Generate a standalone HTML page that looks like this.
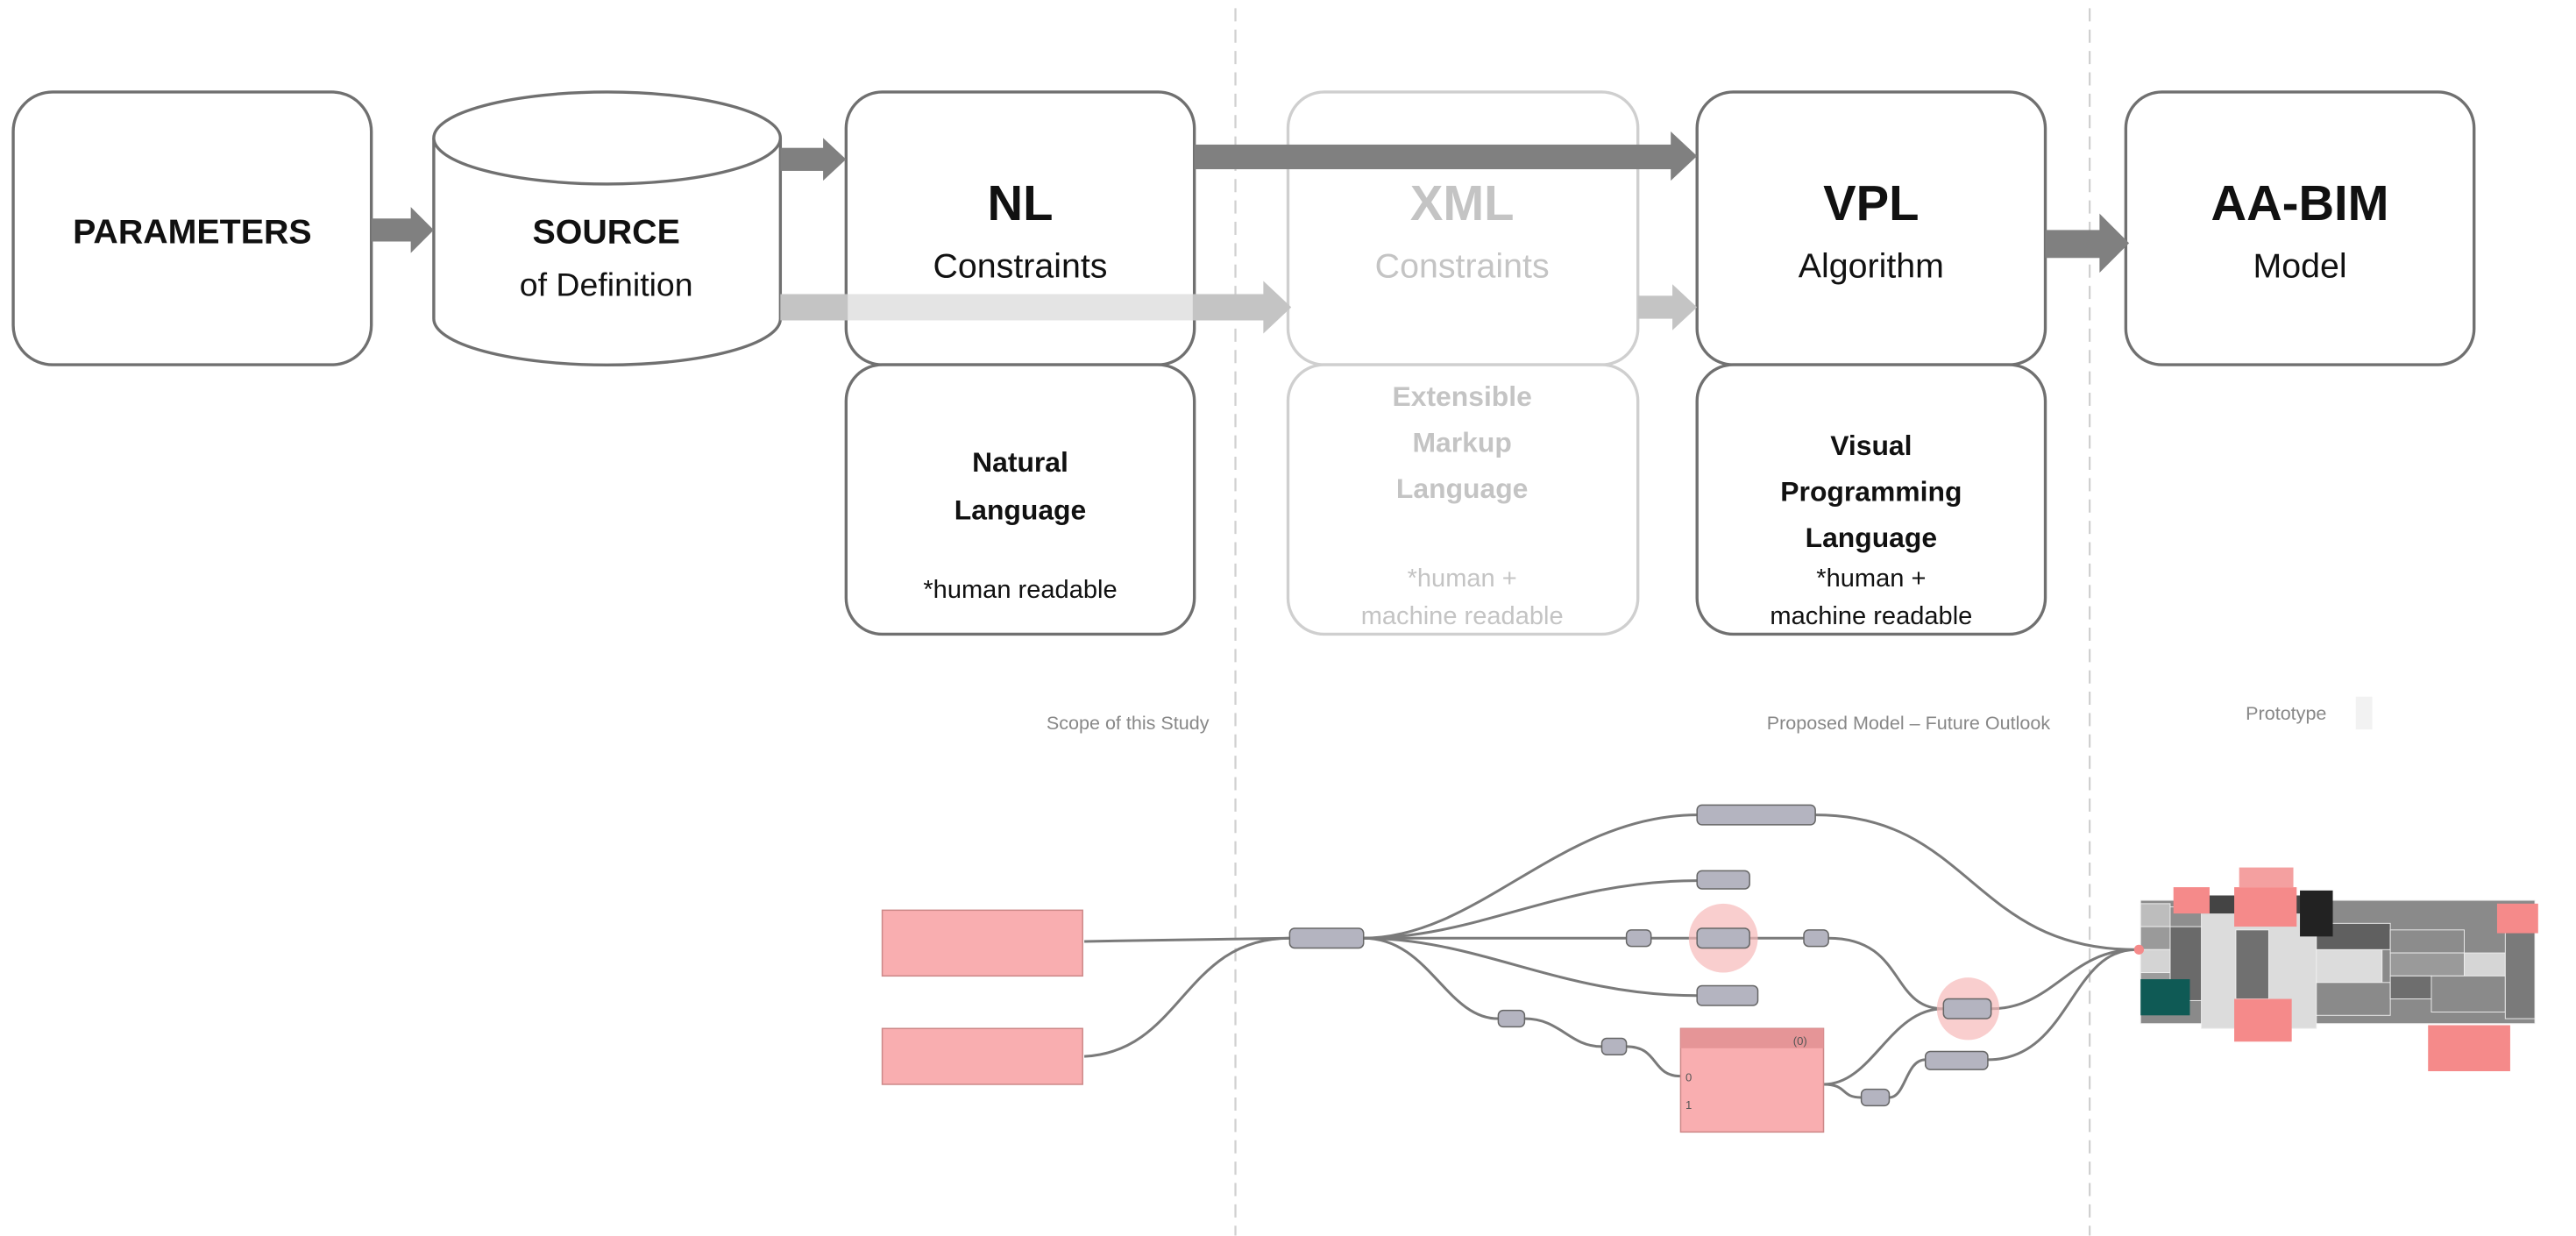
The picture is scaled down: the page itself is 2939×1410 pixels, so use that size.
<!DOCTYPE html>
<html><head><meta charset="utf-8"><style>
html,body{margin:0;padding:0;background:#fff;}
svg{display:block;}
text{font-family:"Liberation Sans",sans-serif;}
</style></head><body>
<svg width="2939" height="1410" viewBox="0 0 1568 752.3" xmlns="http://www.w3.org/2000/svg">
<rect width="1568" height="753" fill="#fff"/>
<!-- dashed dividers -->
<line x1="752" y1="5" x2="752" y2="752" stroke="#d0d0d0" stroke-width="1.2" stroke-dasharray="8,5"/>
<line x1="1272" y1="5" x2="1272" y2="752" stroke="#d0d0d0" stroke-width="1.2" stroke-dasharray="8,5"/>

<g stroke="#707070" stroke-width="1.8" fill="#fff">
<rect x="8" y="56" width="218" height="166" rx="24"/>
<!-- cylinder -->
<path d="M264 84 L264 194 A105 28 0 0 0 475 194 L475 84" />
<ellipse cx="369.5" cy="84" rx="105.5" ry="28"/>
<rect x="515" y="56" width="212" height="166" rx="22"/>
<rect x="515" y="222" width="212" height="164" rx="22"/>
<rect x="1033" y="56" width="212" height="166" rx="22"/>
<rect x="1033" y="222" width="212" height="164" rx="22"/>
<rect x="1294" y="56" width="212" height="166" rx="22"/>
</g>
<g stroke="#cfcfcf" stroke-width="1.8" fill="#fff">
<rect x="784" y="56" width="213" height="166" rx="22"/>
<rect x="784" y="222" width="213" height="164" rx="22"/>
</g>

<!-- arrows -->
<g fill="#808080">
<rect x="226" y="133" width="26" height="14"/><polygon points="250,126 264,140 250,154"/>
<rect x="475" y="90" width="28" height="14"/><polygon points="501,84 515,97 501,110"/>
<rect x="727" y="88" width="292" height="15"/><polygon points="1017,80 1033,95 1017,110"/>
<rect x="1245" y="140" width="35" height="17"/><polygon points="1278,130 1296,148 1278,166"/>
</g>
<g fill="#c4c4c4">
<rect x="475" y="179" width="296" height="16"/><polygon points="769,171 786,187 769,203"/>
<rect x="997" y="180" width="23" height="14"/><polygon points="1018,173 1033,187 1018,201"/>
</g>
<rect x="516" y="179" width="210" height="16" fill="#fff" opacity="0.55"/>

<!-- texts -->
<g font-weight="bold" fill="#111" text-anchor="middle">
<text x="117" y="148" font-size="21">PARAMETERS</text>
<text x="369" y="148" font-size="21">SOURCE</text>
<text x="621" y="134" font-size="30">NL</text>
<text x="1139" y="134" font-size="30">VPL</text>
<text x="1400" y="134" font-size="30">AA-BIM</text>
<text x="621" y="287" font-size="17">Natural</text>
<text x="621" y="316" font-size="17">Language</text>
<text x="1139" y="277" font-size="17">Visual</text>
<text x="1139" y="305" font-size="17">Programming</text>
<text x="1139" y="333" font-size="17">Language</text>
</g>
<g fill="#111" text-anchor="middle">
<text x="369" y="180" font-size="20">of Definition</text>
<text x="621" y="169" font-size="21">Constraints</text>
<text x="1139" y="169" font-size="21">Algorithm</text>
<text x="1400" y="169" font-size="21">Model</text>
<text x="621" y="364" font-size="15.5">*human readable</text>
<text x="1139" y="357" font-size="15.5">*human +</text>
<text x="1139" y="380" font-size="15.5">machine readable</text>
</g>
<g fill="#c4c4c4" text-anchor="middle">
<text x="890" y="134" font-size="30" font-weight="bold">XML</text>
<text x="890" y="169" font-size="21">Constraints</text>
<text x="890" y="247" font-size="17" font-weight="bold">Extensible</text>
<text x="890" y="275" font-size="17" font-weight="bold">Markup</text>
<text x="890" y="303" font-size="17" font-weight="bold">Language</text>
<text x="890" y="357" font-size="15.5">*human +</text>
<text x="890" y="380" font-size="15.5">machine readable</text>
</g>
<g fill="#888" font-size="11.5">
<text x="736" y="444" text-anchor="end">Scope of this Study</text>
<text x="1248" y="444" text-anchor="end">Proposed Model – Future Outlook</text>
<text x="1367" y="438">Prototype</text>
</g>
<rect x="1434" y="424" width="10" height="20" fill="#f2f2f2"/>

<!-- graph wires -->
<g stroke="#7a7a7a" stroke-width="1.6" fill="none">
<path d="M660 573 L785 571"/>
<path d="M660 643 C720 640 720 571 785 571"/>
<path d="M830 571 C900 571 950 496 1033 496"/>
<path d="M1105 496 C1200 496 1200 578 1300 578"/>
<path d="M830 571 C900 571 950 536 1033 536"/>
<path d="M830 571 L1098 571"/>
<path d="M1113 571 C1160 571 1150 614 1183 614"/>
<path d="M830 571 C900 571 950 606 1033 606"/>
<path d="M830 571 C870 571 880 620 912 620"/>
<path d="M928 620 C950 620 955 637 975 637"/>
<path d="M990 637 C1010 637 1005 655 1023 655"/>
<path d="M1110 660 C1140 660 1150 614 1183 614"/>
<path d="M1110 660 C1125 660 1120 668 1133 668"/>
<path d="M1150 668 C1160 668 1160 645 1172 645"/>
<path d="M1212 614 C1250 614 1260 578 1300 578"/>
<path d="M1210 645 C1260 645 1260 578 1300 578"/>
</g>
<circle cx="1049" cy="571" r="21" fill="#f6b9b9" opacity="0.7"/>
<circle cx="1198" cy="614" r="19" fill="#f6b9b9" opacity="0.7"/>
<!-- pink boxes -->
<g fill="#f9aeb0" stroke="#c88" stroke-width="0.8">
<rect x="537" y="554" width="122" height="40"/>
<rect x="537" y="626" width="122" height="34"/>
<rect x="1023" y="626" width="87" height="63"/>
</g>
<rect x="1023" y="626" width="87" height="12" fill="#e59597"/>
<text x="1100" y="636" font-size="7" fill="#555" text-anchor="end">(0)</text>
<text x="1026" y="658" font-size="7" fill="#555">0</text>
<text x="1026" y="675" font-size="7" fill="#555">1</text>
<!-- capsule nodes -->
<g fill="#b4b4c0" stroke="#666" stroke-width="0.8">
<rect x="785" y="565" width="45" height="12" rx="3"/>
<rect x="1033" y="490" width="72" height="12" rx="3"/>
<rect x="1033" y="530" width="32" height="11" rx="3"/>
<rect x="1033" y="565" width="32" height="12" rx="3"/>
<rect x="1033" y="600" width="37" height="12" rx="3"/>
<rect x="990" y="566" width="15" height="10" rx="3"/>
<rect x="1098" y="566" width="15" height="10" rx="3"/>
<rect x="912" y="615" width="16" height="10" rx="3"/>
<rect x="975" y="632" width="15" height="10" rx="3"/>
<rect x="1183" y="608" width="29" height="12" rx="3"/>
<rect x="1133" y="663" width="17" height="10" rx="3"/>
<rect x="1172" y="640" width="38" height="11" rx="3"/>
</g>
<!-- voxel model -->
<g stroke="#eee" stroke-width="0.5">
<rect x="1303" y="548" width="240" height="75" fill="#8a8a8a"/>
<rect x="1303" y="550" width="18" height="14" fill="#bdbdbd"/>
<rect x="1303" y="564" width="18" height="14" fill="#9a9a9a"/>
<rect x="1303" y="578" width="18" height="14" fill="#d4d4d4"/>
<rect x="1303" y="592" width="18" height="14" fill="#9c9c9c"/>
<rect x="1321" y="564" width="40" height="45" fill="#6a6a6a"/>
<rect x="1321" y="552" width="40" height="12" fill="#8e8e8e"/>
<rect x="1340" y="556" width="70" height="70" fill="#dcdcdc"/>
<rect x="1361" y="566" width="20" height="42" fill="#707070"/>
<rect x="1410" y="578" width="40" height="20" fill="#dcdcdc"/>
<rect x="1410" y="562" width="45" height="16" fill="#606060"/>
<rect x="1410" y="598" width="45" height="20" fill="#8a8a8a"/>
<rect x="1455" y="566" width="45" height="14" fill="#8c8c8c"/>
<rect x="1455" y="580" width="45" height="14" fill="#9a9a9a"/>
<rect x="1500" y="580" width="25" height="14" fill="#d6d6d6"/>
<rect x="1455" y="594" width="25" height="14" fill="#6e6e6e"/>
<rect x="1480" y="594" width="45" height="22" fill="#8a8a8a"/>
<rect x="1525" y="560" width="18" height="60" fill="#7a7a7a"/>
</g>
<polygon points="1340,545 1420,545 1410,556 1340,556" fill="#444"/>
<rect x="1400" y="542" width="20" height="28" fill="#222"/>
<rect x="1303" y="596" width="30" height="22" fill="#0f5a55"/>
<g fill="#f58a8a">
<rect x="1323" y="540" width="22" height="16"/>
<rect x="1360" y="540" width="38" height="24"/>
<rect x="1363" y="528" width="33" height="12" fill="#f4a0a0"/>
<rect x="1520" y="550" width="25" height="18"/>
<rect x="1360" y="608" width="35" height="26"/>
<rect x="1478" y="624" width="50" height="28"/>
</g>
<circle cx="1302" cy="578" r="3" fill="#f58a8a"/>
</svg>
</body></html>
